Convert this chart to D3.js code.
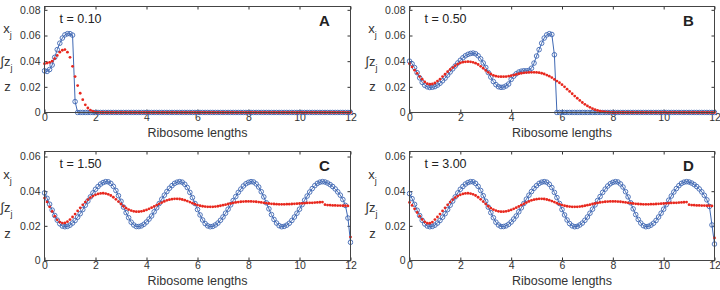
<!DOCTYPE html>
<html>
<head>
<meta charset="utf-8">
<script src="https://cdn.jsdelivr.net/npm/d3@7"></script>
<style>
  body { margin: 0; background: #fff; }
  text { font-family: "Liberation Sans", Arial, Helvetica, sans-serif; }
</style>
</head>
<body>
<script>
// site spacing along the mRNA, in ribosome lengths (121 sites, 0..12)
const siteStep = 0.1;
const xTicks = [0, 2, 4, 6, 8, 10, 12];

// t = 0.10
const blueA = [
  .0325,.0320,.0335,.0370,.0430,.0490,.0540,.0580,.0605,.0614,
  .0614,.0603,.0085,0,0,0,0,0,0,0,
  0,0,0,0,0,0,0,0,0,0,
  0,0,0,0,0,0,0,0,0,0,
  0,0,0,0,0,0,0,0,0,0,
  0,0,0,0,0,0,0,0,0,0,
  0,0,0,0,0,0,0,0,0,0,
  0,0,0,0,0,0,0,0,0,0,
  0,0,0,0,0,0,0,0,0,0,
  0,0,0,0,0,0,0,0,0,0,
  0,0,0,0,0,0,0,0,0,0,
  0,0,0,0,0,0,0,0,0,0,
  0
];
const redA = [
  .0380,.0385,.0390,.0400,.0420,.0445,.0470,.0485,.0490,.0470,
  .0430,.0360,.0280,.0210,.0150,.0100,.0060,.0035,.0018,.0008,
  .0003,.0001,0,0,0,0,0,0,0,0,
  0,0,0,0,0,0,0,0,0,0,
  0,0,0,0,0,0,0,0,0,0,
  0,0,0,0,0,0,0,0,0,0,
  0,0,0,0,0,0,0,0,0,0,
  0,0,0,0,0,0,0,0,0,0,
  0,0,0,0,0,0,0,0,0,0,
  0,0,0,0,0,0,0,0,0,0,
  0,0,0,0,0,0,0,0,0,0,
  0,0,0,0,0,0,0,0,0,0,
  0
];

// t = 0.50
const blueB = [
  .0400,.0380,.0350,.0310,.0270,.0235,.0212,.0200,.0195,.0197,
  .0202,.0213,.0228,.0247,.0268,.0292,.0316,.0340,.0363,.0386,
  .0407,.0426,.0442,.0453,.0460,.0463,.0458,.0442,.0418,.0386,
  .0351,.0311,.0276,.0241,.0217,.0201,.0196,.0198,.0207,.0222,
  .0258,.0283,.0302,.0315,.0322,.0325,.0325,.0328,.0345,.0385,
  .0440,.0490,.0540,.0580,.0605,.0614,.0608,.0450,0,0,
  0,0,0,0,0,0,0,0,0,0,
  0,0,0,0,0,0,0,0,0,0,
  0,0,0,0,0,0,0,0,0,0,
  0,0,0,0,0,0,0,0,0,0,
  0,0,0,0,0,0,0,0,0,0,
  0,0,0,0,0,0,0,0,0,0,
  0
];
const redB = [
  .0380,.0355,.0330,.0305,.0280,.0260,.0238,.0225,.0220,.0222,
  .0230,.0245,.0260,.0280,.0298,.0318,.0335,.0350,.0365,.0377,
  .0386,.0392,.0395,.0396,.0395,.0391,.0384,.0374,.0360,.0345,
  .0328,.0313,.0300,.0290,.0283,.0280,.0279,.0279,.0280,.0283,
  .0287,.0292,.0297,.0302,.0306,.0309,.0311,.0312,.0313,.0313,
  .0312,.0310,.0306,.0300,.0292,.0283,.0272,.0258,.0245,.0232,
  .0217,.0200,.0182,.0164,.0146,.0128,.0111,.0094,.0078,.0064,
  .0051,.0040,.0030,.0022,.0016,.0011,.0007,.0004,.0002,.0001,
  0,0,0,0,0,0,0,0,0,0,
  0,0,0,0,0,0,0,0,0,0,
  0,0,0,0,0,0,0,0,0,0,
  0,0,0,0,0,0,0,0,0,0,
  0
];

// t = 1.50
const blueC = [
  .0390,.0359,.0325,.0291,.0260,.0233,.0212,.0199,.0195,.0197,
  .0204,.0216,.0231,.0250,.0270,.0294,.0319,.0343,.0367,.0390,
  .0411,.0427,.0441,.0450,.0455,.0454,.0445,.0428,.0404,.0374,
  .0342,.0308,.0276,.0247,.0221,.0205,.0196,.0196,.0200,.0209,
  .0222,.0239,.0257,.0281,.0304,.0329,.0354,.0377,.0398,.0417,
  .0432,.0445,.0452,.0455,.0452,.0440,.0421,.0393,.0363,.0329,
  .0294,.0263,.0234,.0213,.0200,.0195,.0197,.0205,.0216,.0232,
  .0251,.0273,.0296,.0321,.0346,.0369,.0393,.0412,.0430,.0443,
  .0451,.0455,.0453,.0442,.0424,.0397,.0367,.0333,.0298,.0265,
  .0237,.0216,.0201,.0195,.0197,.0204,.0215,.0231,.0251,.0273,
  .0296,.0322,.0348,.0372,.0395,.0415,.0432,.0445,.0452,.0455,
  .0453,.0447,.0438,.0427,.0413,.0396,.0377,.0352,.0318,.0245,
  .0105
];
const redC = [
  .0360,.0338,.0310,.0283,.0256,.0235,.0222,.0216,.0217,.0224,
  .0236,.0251,.0268,.0286,.0304,.0321,.0337,.0351,.0363,.0372,
  .0379,.0384,.0387,.0388,.0386,.0382,.0375,.0365,.0353,.0340,
  .0326,.0313,.0302,.0294,.0288,.0284,.0282,.0282,.0284,.0287,
  .0292,.0298,.0305,.0312,.0320,.0327,.0334,.0341,.0347,.0351,
  .0354,.0356,.0356,.0355,.0352,.0348,.0343,.0337,.0331,.0325,
  .0320,.0316,.0313,.0311,.0310,.0310,.0310,.0311,.0313,.0316,
  .0319,.0322,.0326,.0329,.0332,.0335,.0337,.0339,.0340,.0341,
  .0341,.0341,.0340,.0339,.0337,.0335,.0333,.0331,.0329,.0327,
  .0326,.0325,.0324,.0324,.0324,.0325,.0325,.0326,.0327,.0328,
  .0329,.0330,.0331,.0332,.0333,.0333,.0334,.0335,.0336,.0337,
  .0322,.0320,.0319,.0318,.0318,.0317,.0317,.0316,.0316,.0315,
  .0135
];

// t = 3.00
const blueD = [
  .0386,.0357,.0324,.0290,.0259,.0232,.0211,.0199,.0195,.0197,
  .0204,.0216,.0231,.0250,.0270,.0294,.0319,.0343,.0367,.0390,
  .0411,.0427,.0441,.0450,.0455,.0454,.0445,.0428,.0404,.0374,
  .0342,.0308,.0276,.0247,.0221,.0205,.0196,.0196,.0200,.0209,
  .0222,.0239,.0257,.0281,.0304,.0329,.0354,.0377,.0398,.0417,
  .0432,.0445,.0452,.0455,.0452,.0440,.0421,.0393,.0363,.0329,
  .0294,.0263,.0234,.0213,.0200,.0195,.0197,.0205,.0216,.0232,
  .0251,.0273,.0296,.0321,.0346,.0369,.0393,.0412,.0430,.0443,
  .0451,.0455,.0453,.0442,.0424,.0397,.0367,.0333,.0298,.0265,
  .0237,.0216,.0201,.0195,.0197,.0204,.0215,.0231,.0251,.0273,
  .0296,.0322,.0348,.0372,.0395,.0415,.0432,.0445,.0452,.0455,
  .0453,.0447,.0438,.0427,.0413,.0396,.0376,.0350,.0312,.0205,
  .0095
];
const redD = [
  .0335,.0318,.0298,.0277,.0256,.0237,.0223,.0215,.0215,.0222,
  .0236,.0251,.0268,.0286,.0304,.0321,.0337,.0351,.0363,.0372,
  .0379,.0384,.0387,.0388,.0386,.0382,.0375,.0365,.0353,.0340,
  .0326,.0313,.0302,.0294,.0288,.0284,.0282,.0282,.0284,.0287,
  .0292,.0298,.0305,.0312,.0320,.0327,.0334,.0341,.0347,.0351,
  .0354,.0356,.0356,.0355,.0352,.0348,.0343,.0337,.0331,.0325,
  .0320,.0316,.0313,.0311,.0310,.0310,.0310,.0311,.0313,.0316,
  .0319,.0322,.0326,.0329,.0332,.0335,.0337,.0339,.0340,.0341,
  .0341,.0341,.0340,.0339,.0337,.0335,.0333,.0331,.0329,.0327,
  .0326,.0325,.0324,.0324,.0324,.0325,.0325,.0326,.0327,.0328,
  .0329,.0330,.0331,.0332,.0333,.0333,.0334,.0335,.0336,.0337,
  .0322,.0320,.0319,.0318,.0318,.0317,.0317,.0316,.0316,.0315,
  .0130
];

const panels = [
  { letter: "A", time: "t = 0.10", blue: blueA, red: redA, yMax: 0.0826, yTicks: [0, 0.02, 0.04, 0.06, 0.08],
    left: 44.5, right: 350.5, top: 6.5, bottom: 112.5 },
  { letter: "B", time: "t = 0.50", blue: blueB, red: redB, yMax: 0.0826, yTicks: [0, 0.02, 0.04, 0.06, 0.08],
    left: 409.5, right: 714.5, top: 6.5, bottom: 112.5 },
  { letter: "C", time: "t = 1.50", blue: blueC, red: redC, yMax: 0.0629, yTicks: [0, 0.02, 0.04, 0.06],
    left: 44.5, right: 350.5, top: 151.5, bottom: 260.5 },
  { letter: "D", time: "t = 3.00", blue: blueD, red: redD, yMax: 0.0629, yTicks: [0, 0.02, 0.04, 0.06],
    left: 409.5, right: 714.5, top: 151.5, bottom: 260.5 }
];

const blueColor = "#3f68b3";
const redColor = "#e8281e";
const textColor = "#333";

const svg = d3.select("body")
  .append("svg")
  .attr("width", 720)
  .attr("height", 290);

const fmtY = d => d === 0 ? "0" : d.toFixed(2);

panels.forEach((p, k) => {
  const x = d3.scaleLinear().domain([0, 12]).range([p.left, p.right]);
  const y = d3.scaleLinear().domain([0, p.yMax]).range([p.bottom, p.top]);
  const g = svg.append("g");

  const styleAxis = sel => {
    sel.select(".domain").remove();
    sel.attr("font-size", 10.5)
      .attr("font-family", "'Liberation Sans', Arial, sans-serif")
      .attr("color", textColor);
  };

  // axes, ticks pointing inward on all four sides
  g.append("g")
    .attr("transform", `translate(0,${p.bottom})`)
    .call(d3.axisBottom(x).tickValues(xTicks).tickSizeInner(-3).tickSizeOuter(0).tickPadding(1.5))
    .call(styleAxis);
  g.append("g")
    .attr("transform", `translate(0,${p.top})`)
    .call(d3.axisTop(x).tickValues(xTicks).tickSizeInner(-3).tickSizeOuter(0).tickFormat(""))
    .call(styleAxis);
  g.append("g")
    .attr("transform", `translate(${p.left},0)`)
    .call(d3.axisLeft(y).tickValues(p.yTicks).tickSizeInner(-3).tickSizeOuter(0).tickPadding(4).tickFormat(fmtY))
    .call(styleAxis);
  g.append("g")
    .attr("transform", `translate(${p.right},0)`)
    .call(d3.axisRight(y).tickValues(p.yTicks).tickSizeInner(-3).tickSizeOuter(0).tickFormat(""))
    .call(styleAxis);

  // clip for the data marks
  const clipId = "clip" + k;
  svg.append("clipPath").attr("id", clipId)
    .append("rect")
    .attr("x", p.left - 3).attr("y", p.top)
    .attr("width", p.right - p.left + 6).attr("height", p.bottom - p.top + 3);

  const marks = g.append("g").attr("clip-path", `url(#${clipId})`);

  const line = d3.line()
    .x((d, i) => x(i * siteStep))
    .y(d => y(d));

  marks.append("path")
    .datum(p.blue)
    .attr("d", line)
    .attr("fill", "none")
    .attr("stroke", blueColor)
    .attr("stroke-width", 1);

  marks.selectAll("circle.blue")
    .data(p.blue)
    .join("circle")
    .attr("class", "blue")
    .attr("cx", (d, i) => x(i * siteStep))
    .attr("cy", d => y(d))
    .attr("r", 2.3)
    .attr("fill", "none")
    .attr("stroke", blueColor)
    .attr("stroke-width", 0.9);

  marks.selectAll("circle.red")
    .data(p.red)
    .join("circle")
    .attr("class", "red")
    .attr("cx", (d, i) => x(i * siteStep))
    .attr("cy", d => y(d))
    .attr("r", 1.4)
    .attr("fill", redColor);

  // box
  g.append("rect")
    .attr("x", p.left).attr("y", p.top)
    .attr("width", p.right - p.left).attr("height", p.bottom - p.top)
    .attr("fill", "none")
    .attr("stroke", "#444")
    .attr("stroke-width", 1);

  // axis title
  g.append("text")
    .attr("x", (p.left + p.right) / 2)
    .attr("y", p.bottom + 24)
    .attr("text-anchor", "middle")
    .attr("font-size", 12.5)
    .attr("fill", textColor)
    .text("Ribosome lengths");

  // time stamp and panel letter
  g.append("text")
    .attr("x", p.left + 15)
    .attr("y", p.top + 16)
    .attr("font-size", 12.5)
    .attr("fill", "#222")
    .text(p.time);

  g.append("text")
    .attr("x", p.right - 26)
    .attr("y", p.top + 19)
    .attr("text-anchor", "middle")
    .attr("font-size", 15)
    .attr("font-weight", "bold")
    .attr("fill", "#222")
    .text(p.letter);

  // y labels: x_j, ∫z_j, z
  const h = p.bottom - p.top;
  const lx = p.left - 37;
  const yl1 = g.append("text")
    .attr("x", lx).attr("y", p.top + h * 0.225 + 3)
    .attr("text-anchor", "middle")
    .attr("font-size", 13).attr("fill", textColor);
  yl1.append("tspan").text("x");
  yl1.append("tspan").attr("dy", 5).attr("font-size", 9).text("j");

  const yl2 = g.append("text")
    .attr("x", lx - 1).attr("y", p.top + h * 0.52 + 4)
    .attr("text-anchor", "middle")
    .attr("font-size", 13).attr("fill", textColor);
  yl2.append("tspan").text("∫z");
  yl2.append("tspan").attr("dy", 5).attr("font-size", 9).text("j");

  g.append("text")
    .attr("x", lx).attr("y", p.top + h * 0.76 + 4)
    .attr("text-anchor", "middle")
    .attr("font-size", 13).attr("fill", textColor)
    .text("z");
});
</script>
</body>
</html>
